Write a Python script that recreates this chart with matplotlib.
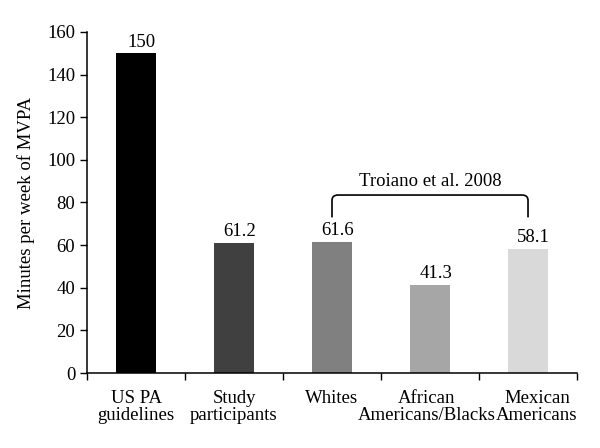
import matplotlib.pyplot as plt
import numpy as np
from matplotlib.path import Path
from matplotlib.patches import PathPatch
from matplotlib.transforms import ScaledTranslation

# Data
categories = ['US PA\nguidelines', 'Study\nparticipants', 'Whites',
              'African\nAmericans/Blacks', 'Mexican\nAmericans']
minutes = [150, 61.2, 61.6, 41.3, 58.1]
bar_colors = ['#000000', '#404040', '#808080', '#a6a6a6', '#d9d9d9']
bracket_label = 'Troiano et al. 2008'

plt.rcParams['font.family'] = 'Liberation Serif'
plt.rcParams['font.size'] = 13.5

fig = plt.figure(figsize=(6, 4.48), dpi=100)
ax = fig.add_axes([0.145, 0.1674, 0.8167, 0.7612])

x = np.arange(len(categories))
bars = ax.bar(x, minutes, 0.4, color=bar_colors)

for rect, v in zip(bars, minutes):
    ax.annotate(f'{v:g}', xy=(rect.get_x() + rect.get_width() / 2, v),
                xytext=(4, 2), textcoords='offset points',
                ha='center', va='bottom')

ax.set_xlim(-0.5, len(categories) - 0.5)
ax.set_ylim(0, 160)
ax.set_yticks(np.arange(0, 161, 20))
ax.set_xticks(x)
ax.set_xticklabels(categories, linespacing=1.05)
ax.set_xticks(np.arange(-0.5, len(categories), 1), minor=True)
ax.tick_params(axis='x', which='major', length=0, pad=12)
ax.tick_params(axis='x', which='minor', length=5, width=1)
ax.tick_params(axis='y', length=5, width=1)
ax.set_ylabel('Minutes per week of MVPA', labelpad=9)

# nudge the last two labels apart like the original
shifts = [0, 0, 0, -3, 9]
for lbl, dx in zip(ax.get_xticklabels(), shifts):
    lbl.set_transform(lbl.get_transform() +
                      ScaledTranslation(dx / 100, 0, fig.dpi_scale_trans))

for side in ['top', 'right']:
    ax.spines[side].set_visible(False)
for side in ['left', 'bottom']:
    ax.spines[side].set_linewidth(1.1)

# bracket over the Troiano et al. groups
x0, x1 = 2, 4
y_low, y_top = 73, 83.5
rx, ry = 0.06, 2.5
verts = [(x0, y_low), (x0, y_top - ry), (x0, y_top), (x0 + rx, y_top),
         (x1 - rx, y_top), (x1, y_top), (x1, y_top - ry), (x1, y_low)]
codes = [Path.MOVETO, Path.LINETO, Path.CURVE3, Path.CURVE3,
         Path.LINETO, Path.CURVE3, Path.CURVE3, Path.LINETO]
ax.add_patch(PathPatch(Path(verts, codes), fill=False, lw=1.2,
                       edgecolor='black', clip_on=False))
ax.text((x0 + x1) / 2, y_top + 2.5, bracket_label, ha='center', va='bottom')

plt.savefig('out.png', dpi=100)
